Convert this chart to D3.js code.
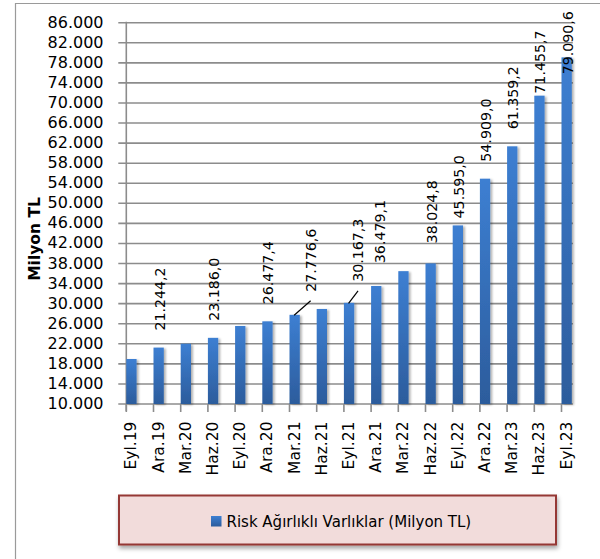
<!DOCTYPE html>
<html>
<head>
<meta charset="utf-8">
<script src="https://cdn.jsdelivr.net/npm/d3@7"></script>
<style>
  html, body { margin: 0; padding: 0; background: #fff; }
  svg { display: block; font-family: "DejaVu Sans", sans-serif; }
</style>
</head>
<body>
<svg id="chart" width="600" height="559"></svg>
<script>
// Quarterly risk-weighted assets, million TL
const categories = ["Eyl.19","Ara.19","Mar.20","Haz.20","Eyl.20","Ara.20","Mar.21","Haz.21","Eyl.21","Ara.21","Mar.22","Haz.22","Eyl.22","Ara.22","Mar.23","Haz.23","Eyl.23"];
const values = [18970, 21244.2, 22020, 23186.0, 25550, 26477.4, 27776.6, 28940, 30167.3, 33520, 36479.1, 38024.8, 45595.0, 54909.0, 61359.2, 71455.7, 79090.6];
const labelled = [false, true, false, true, false, true, true, false, true, false, true, true, true, true, true, true, true];
const yTicks = [10000, 14000, 18000, 22000, 26000, 30000, 34000, 38000, 42000, 46000, 50000, 54000, 58000, 62000, 66000, 70000, 74000, 78000, 82000, 86000];
const seriesName = "Risk Ağırlıklı Varlıklar (Milyon TL)";
const axisTitle = "Milyon TL";

// Turkish number formatting: "." for thousands, "," for decimals
const tr = d3.formatLocale({ decimal: ",", thousands: ".", grouping: [3], currency: ["", " TL"] });
const fmtTick = tr.format(",.0f");
const fmtValue = tr.format(",.1f");

// Hand-placed label offsets where labels would collide
const labelShift = {
  "Mar.21": { dx: 15, dy: -6, leader: true },
  "Eyl.21": { dx: 8, dy: -4, leader: true },
  "Mar.22": { dx: -24, dy: 9 },
  "Haz.22": { dx: 0, dy: -3 },
  "Eyl.22": { dx: 0, dy: 10 },
  "Haz.23": { dx: 0, dy: 15 },
  "Eyl.23": { dx: 0, dy: 34 }
};

const svg = d3.select("#chart");
const defs = svg.append("defs");

const grad = defs.append("linearGradient").attr("id", "barGrad")
  .attr("x1", 0).attr("y1", 0).attr("x2", 0).attr("y2", 1);
grad.append("stop").attr("offset", "0%").attr("stop-color", "#3d7fd2");
grad.append("stop").attr("offset", "100%").attr("stop-color", "#2c5c9c");

const shadow = defs.append("filter").attr("id", "barShadow")
  .attr("x", "-50%").attr("y", "-10%").attr("width", "200%").attr("height", "130%");
shadow.append("feDropShadow").attr("dx", 2).attr("dy", 1)
  .attr("stdDeviation", 1.3).attr("flood-color", "#000").attr("flood-opacity", 0.3);

const legShadow = defs.append("filter").attr("id", "legShadow")
  .attr("x", "-10%").attr("y", "-20%").attr("width", "120%").attr("height", "150%");
legShadow.append("feDropShadow").attr("dx", 1).attr("dy", 3)
  .attr("stdDeviation", 2).attr("flood-color", "#000").attr("flood-opacity", 0.35);

// Outer chart frame (top and left edges visible)
svg.append("path")
  .attr("d", "M15.5,570 L15.5,3.5 L610,3.5")
  .attr("fill", "none").attr("stroke", "#9a9a9a").attr("stroke-width", 1.2);

// Scales
const x0 = 126.3, step = 27.2, barW = 10.3;
const x = d3.scaleBand().domain(categories)
  .range([x0, x0 + step * categories.length]).paddingInner(0).paddingOuter(0);
const y = d3.scaleLinear().domain([10000, 86000]).range([404, 22.7]);
const plotRight = x(categories[categories.length - 1]) + barW + 1;
const cx = c => x(c) + barW / 2;

// Horizontal gridlines and y-axis ticks
const grid = svg.append("g");
grid.selectAll("line.grid").data(yTicks).join("line")
  .attr("class", "grid")
  .attr("x1", x0 - 8).attr("x2", plotRight)
  .attr("y1", d => y(d)).attr("y2", d => y(d))
  .attr("stroke", "#8c8c8c").attr("stroke-width", 1.6);

svg.append("g").selectAll("text").data(yTicks).join("text")
  .attr("x", 103.5).attr("y", d => y(d) + 5)
  .attr("text-anchor", "end")
  .attr("font-size", 16).attr("fill", "#000")
  .text(d => fmtTick(d));

// Axis lines
svg.append("line")
  .attr("x1", x0).attr("x2", x0).attr("y1", y(86000) - 1).attr("y2", y(10000) + 7)
  .attr("stroke", "#8c8c8c").attr("stroke-width", 1.6);

svg.append("g").selectAll("line").data(categories).join("line")
  .attr("x1", d => x(d)).attr("x2", d => x(d))
  .attr("y1", y(10000)).attr("y2", y(10000) + 8)
  .attr("stroke", "#8c8c8c").attr("stroke-width", 1.6);

// Bars
svg.append("g").attr("filter", "url(#barShadow)")
  .selectAll("rect").data(categories).join("rect")
  .attr("x", d => x(d))
  .attr("width", barW)
  .attr("y", (d, i) => y(values[i]))
  .attr("height", (d, i) => y(10000) - y(values[i]))
  .attr("fill", "url(#barGrad)");

// Category labels (rotated)
svg.append("g").selectAll("text").data(categories).join("text")
  .attr("transform", d => `translate(${cx(d)},421.5) rotate(-90)`)
  .attr("text-anchor", "end")
  .attr("dy", 5)
  .attr("font-size", 15.5).attr("fill", "#000")
  .text(d => d);

// Value labels with leader lines where displaced
const labelData = categories.map((c, i) => ({ c, v: values[i], show: labelled[i] })).filter(d => d.show);
labelData.forEach(d => {
  const s = labelShift[d.c] || { dx: 0, dy: 0 };
  d.lx = cx(d.c) + s.dx;
  d.ly = y(d.v) - 17 + s.dy;
  d.leader = !!s.leader;
});

svg.append("g").selectAll("line").data(labelData.filter(d => d.leader)).join("line")
  .attr("x1", d => cx(d.c) - 0.5).attr("y1", d => y(d.v) + 0.5)
  .attr("x2", d => d.lx + 1).attr("y2", d => d.ly + 9)
  .attr("stroke", "#000").attr("stroke-width", 1.2);

svg.append("g").selectAll("text").data(labelData).join("text")
  .attr("transform", d => `translate(${d.lx},${d.ly}) rotate(-90)`)
  .attr("text-anchor", "start")
  .attr("dy", 6)
  .attr("font-size", 14.2).attr("fill", "#000")
  .text(d => fmtValue(d.v));

// Y-axis title
svg.append("text")
  .attr("transform", "translate(39.5,239) rotate(-90)")
  .attr("text-anchor", "middle")
  .attr("font-size", 15.5).attr("font-weight", "bold").attr("fill", "#000")
  .text(axisTitle);

// Legend
const leg = svg.append("g");
leg.append("rect")
  .attr("x", 119).attr("y", 495.5).attr("width", 437).attr("height", 49)
  .attr("fill", "#f2dcdb").attr("stroke", "#953735").attr("stroke-width", 2)
  .attr("filter", "url(#legShadow)");
leg.append("rect")
  .attr("x", 211).attr("y", 516).attr("width", 10.5).attr("height", 10.5)
  .attr("fill", "url(#barGrad)");
leg.append("text")
  .attr("x", 226.5).attr("y", 526.5)
  .attr("font-size", 15).attr("fill", "#000")
  .text(seriesName);
</script>
</body>
</html>
